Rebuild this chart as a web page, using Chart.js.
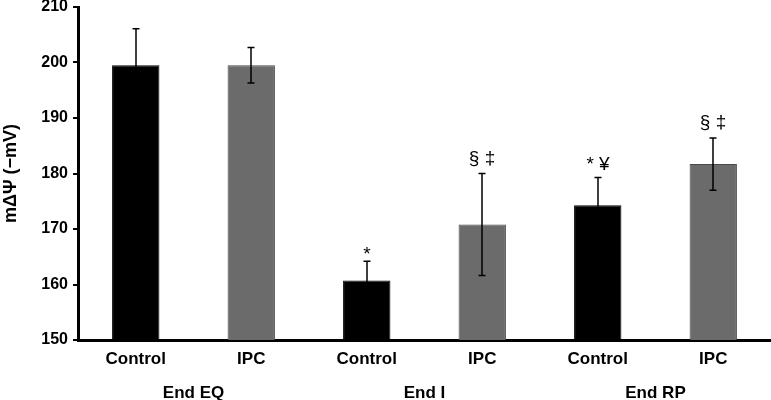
<!DOCTYPE html>
<html>
<head>
<meta charset="utf-8">
<script src="https://cdn.jsdelivr.net/npm/chart.js@4"></script>
<style>
  html, body { margin: 0; padding: 0; background: #fff; }
  #wrap { width: 771px; height: 400px; }
</style>
</head>
<body>
<div id="wrap"><canvas id="c" width="771" height="400"></canvas></div>
<script>
const categories = ['Control', 'IPC', 'Control', 'IPC', 'Control', 'IPC'];
const groups = ['End EQ', 'End I', 'End RP'];
const means = [199.5, 199.5, 160.7, 170.8, 174.3, 181.7];
const errors = [6.6, 3.2, 3.5, 9.2, 5.0, 4.7];
const marks = ['', '', '*', '§ ‡', '* ¥', '§ ‡'];
const yTicks = [150, 160, 170, 180, 190, 200, 210];

const FONT = '"Liberation Sans", Arial, sans-serif';
const barColors = categories.map(c => c === 'Control' ? '#000000' : '#6b6b6b');
const borderColors = categories.map(c => c === 'Control' ? '#000000' : '#4a4a4a');

const extras = {
  id: 'extras',
  afterDatasetsDraw(chart) {
    const ctx = chart.ctx;
    const y = chart.scales.y;
    const meta = chart.getDatasetMeta(0);
    ctx.save();
    ctx.strokeStyle = '#000';
    ctx.lineWidth = 1.5;
    meta.data.forEach((bar, i) => {
      const x = Math.round(bar.x);
      const top = y.getPixelForValue(means[i] + errors[i]);
      const bot = y.getPixelForValue(means[i] - errors[i]);
      ctx.beginPath();
      ctx.moveTo(x, top); ctx.lineTo(x, bot);
      ctx.moveTo(x - 3.5, top); ctx.lineTo(x + 3.5, top);
      ctx.moveTo(x - 3.5, bot); ctx.lineTo(x + 3.5, bot);
      ctx.stroke();
      if (marks[i]) {
        ctx.fillStyle = '#000';
        ctx.font = '19px ' + FONT;
        ctx.textAlign = 'center';
        ctx.textBaseline = 'alphabetic';
        const m = ctx.measureText(marks[i]);
        const desc = m.actualBoundingBoxDescent;
        ctx.fillText(marks[i], x, top - 7 - desc);
      }
    });
    ctx.restore();
  },
  afterDraw(chart) {
    const ctx = chart.ctx;
    const xs = chart.scales.x;
    ctx.save();
    ctx.fillStyle = '#000';
    ctx.font = 'bold 17px ' + FONT;
    ctx.textAlign = 'center';
    ctx.textBaseline = 'middle';
    groups.forEach((g, k) => {
      const x = (xs.getPixelForValue(2 * k) + xs.getPixelForValue(2 * k + 1)) / 2;
      ctx.fillText(g, x, chart.chartArea.bottom + 53);
    });
    ctx.restore();
  }
};

new Chart(document.getElementById('c'), {
  type: 'bar',
  data: {
    labels: categories,
    datasets: [{
      data: means,
      backgroundColor: barColors,
      borderColor: borderColors,
      borderWidth: 1,
      barPercentage: 0.41,
      categoryPercentage: 1.0
    }]
  },
  options: {
    responsive: false,
    animation: false,
    devicePixelRatio: 1,
    layout: { padding: { top: 0, right: 0, left: 0, bottom: 0 } },
    plugins: { legend: { display: false }, tooltip: { enabled: false } },
    scales: {
      x: {
        offset: true,
        grid: { display: false },
        border: { display: true, color: '#000', width: 3 },
        ticks: { color: '#000', font: { family: FONT, size: 17, weight: 'bold' }, padding: 1, maxRotation: 0 },
        afterFit(scale) { scale.height = 60; }
      },
      y: {
        min: 150, max: 210,
        afterBuildTicks(scale) { scale.ticks = yTicks.map(v => ({ value: v })); },
        grid: { display: true, drawOnChartArea: false, drawTicks: true, tickLength: 5, color: '#000', lineWidth: 2 },
        border: { display: true, color: '#000', width: 3 },
        ticks: { color: '#000', font: { family: FONT, size: 16, weight: 'bold' }, padding: 5 },
        title: { display: true, text: 'mΔΨ (−mV)', color: '#000', font: { family: FONT, size: 18, weight: 'bold' }, padding: { top: 0, bottom: 2 } },
        afterFit(scale) { scale.width = 78; scale.paddingTop = 7; }
      }
    }
  },
  plugins: [extras]
});
</script>
</body>
</html>
